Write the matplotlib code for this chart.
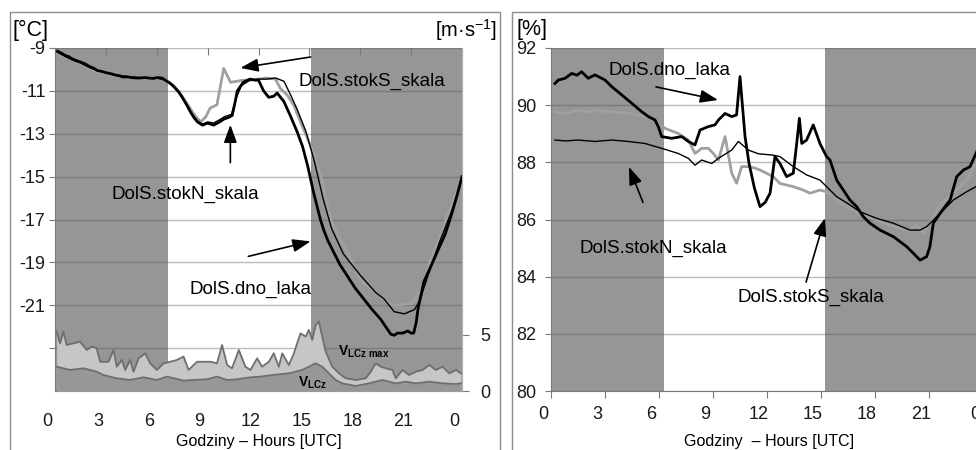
import matplotlib.pyplot as plt
import numpy as np
from matplotlib.patches import Rectangle
from matplotlib.transforms import ScaledTranslation

plt.rcParams['font.family'] = ['Liberation Sans', 'DejaVu Sans']
plt.rcParams['mathtext.fontset'] = 'custom'
plt.rcParams['mathtext.bf'] = 'Liberation Sans:bold'
plt.rcParams['mathtext.rm'] = 'Liberation Sans'

# %% Data: air temperature (left) and relative humidity (right), 24 h UTC
hour_ticks = [0, 3, 6, 9, 12, 15, 18, 21, 24]
hour_labels = ['0', '3', '6', '9', '12', '15', '18', '21', '0']

# daytime (unshaded) interval, hours
day_temp = (6.68, 15.07)
day_rh = (6.28, 15.2)

# DolS.dno_laka temperature
dno_h = [0.15, 0.4, 0.6, 0.8, 1.0, 1.3, 1.5, 1.8, 2.0, 2.3,
         2.5, 2.8, 3.0, 3.3, 3.5, 3.8, 4.0, 4.3, 4.5, 4.8,
         5.0, 5.3, 5.5, 5.8, 6.0, 6.3, 6.5, 6.8, 7.0, 7.3,
         7.5, 7.8, 8.0, 8.2, 8.4, 8.7, 9.0, 9.35, 9.7, 10.0,
         10.2, 10.45, 10.6, 10.75, 11.1, 11.5, 11.8, 12.0, 12.3, 12.6,
         12.9, 13.1, 13.3, 13.5, 13.9, 14.3, 14.6, 14.9, 15.25, 15.65,
         15.85, 16.1, 16.45, 16.8, 17.25, 17.7, 18.2, 18.7, 19.2, 19.5,
         19.8, 20.0, 20.2, 20.5, 20.8, 21.0, 21.15, 21.3, 21.4, 21.75,
         22.1, 22.6, 23.0, 23.35, 23.7, 24.0]
dno_t = [-9.15, -9.25, -9.35, -9.4, -9.5, -9.6, -9.65, -9.75, -9.85, -9.95,
         -10.05, -10.1, -10.15, -10.2, -10.25, -10.3, -10.35, -10.35, -10.38, -10.4,
         -10.4, -10.38, -10.4, -10.42, -10.38, -10.4, -10.5, -10.65, -10.8, -11.05,
         -11.3, -11.7, -12.0, -12.25, -12.45, -12.6, -12.5, -12.6, -12.45, -12.3,
         -12.25, -12.15, -11.6, -11.0, -10.6, -10.45, -10.5, -10.5, -11.0, -11.3,
         -11.25, -11.1, -11.3, -11.5, -12.2, -12.95, -13.6, -14.5, -15.75, -17.0,
         -17.5, -18.0, -18.55, -19.1, -19.65, -20.2, -20.7, -21.2, -21.65, -22.0,
         -22.35, -22.4, -22.3, -22.3, -22.2, -22.3, -22.3, -21.8, -21.2, -19.9,
         -19.3, -18.4, -17.7, -16.85, -15.9, -15.0]

# DolS.stokN_skala temperature
stokN_h = [0.15, 0.5, 1.0, 1.5, 2.0, 2.5, 3.0, 3.5, 4.0, 4.5,
           5.0, 5.5, 6.0, 6.5, 7.0, 7.5, 8.0, 8.4, 8.7, 9.0,
           9.35, 9.7, 10.0, 10.4, 10.7, 11.0, 11.5, 12.0, 12.5, 13.0,
           13.5, 13.9, 14.3, 14.8, 15.3, 15.8, 16.3, 17.0, 18.0, 18.9,
           19.4, 20.0, 20.3, 20.6, 20.9, 21.2, 21.5, 22.0, 22.7, 23.4,
           24.0]
stokN_t = [-9.2, -9.35, -9.55, -9.7, -9.9, -10.05, -10.15, -10.25, -10.3, -10.35,
           -10.38, -10.4, -10.4, -10.5, -10.8, -11.3, -12.0, -12.4, -12.55, -12.45,
           -12.5, -12.35, -12.2, -12.1, -11.3, -10.75, -10.5, -10.45, -10.45, -10.4,
           -10.55, -11.2, -11.9, -12.9, -14.3, -16.0, -17.4, -18.6, -19.6, -20.4,
           -20.7, -21.3, -21.35, -21.4, -21.3, -21.2, -20.8, -19.6, -18.0, -16.6,
           -15.1]

# DolS.stokS_skala temperature
stokS_h = [0.15, 0.5, 1.0, 1.5, 2.0, 2.5, 3.0, 3.5, 4.0, 4.5,
           5.0, 5.5, 6.0, 6.5, 7.0, 7.5, 8.0, 8.3, 8.6, 8.9,
           9.15, 9.55, 9.95, 10.35, 10.75, 11.1, 11.5, 12.0, 12.5, 13.0,
           13.3, 13.7, 14.1, 14.5, 15.1, 15.7, 16.25, 16.8, 17.25, 18.0,
           18.6, 19.2, 19.8, 20.2, 20.6, 21.1, 21.6, 22.15, 22.6, 23.0,
           23.5, 24.0]
stokS_t = [-9.25, -9.4, -9.55, -9.75, -9.95, -10.1, -10.2, -10.3, -10.35, -10.4,
           -10.42, -10.42, -10.4, -10.5, -10.75, -11.25, -11.85, -12.2, -12.45, -12.2,
           -11.8, -11.65, -9.95, -10.6, -10.55, -10.5, -10.5, -10.45, -10.4, -10.45,
           -10.9, -11.2, -11.7, -12.5, -13.6, -15.0, -17.0, -17.9, -18.55, -19.8,
           -20.2, -20.6, -20.95, -21.0, -20.95, -20.9, -20.25, -18.85, -18.0, -17.1,
           -16.1, -15.1]

# wind speed: 10-min maximum and mean (m/s)
vmax_h = [0.10, 0.30, 0.49, 0.69, 1.08, 1.48, 1.87, 2.17, 2.46, 2.66,
          3.15, 3.45, 3.64, 3.94, 4.14, 4.43, 4.63, 4.93, 5.32, 5.61,
          6.01, 6.40, 6.80, 7.19, 7.58, 7.88, 8.37, 9.16, 9.55, 9.85,
          10.15, 10.44, 10.84, 11.23, 11.53, 11.92, 12.21, 12.61, 12.90, 13.2,
          13.4, 13.79, 14.09, 14.28, 14.48, 14.78, 14.97, 15.17, 15.37, 15.56,
          15.76, 15.96, 16.35, 16.75, 17.14, 17.73, 18.32, 18.62, 18.91, 19.21,
          19.5, 19.9, 20.09, 20.49, 20.88, 21.28, 21.67, 22.07, 22.46, 22.85,
          23.25, 23.64, 23.94]
vmax = [5.3, 4.24, 5.28, 4.09, 4.24, 4.39, 3.65, 3.94, 3.8, 2.6,
        2.6, 3.65, 2.16, 2.76, 1.87, 2.76, 1.72, 2.91, 3.35, 2.46,
        1.87, 2.46, 2.6, 2.76, 3.06, 1.87, 2.6, 2.6, 2.46, 4.09,
        2.31, 2.02, 3.65, 2.16, 1.87, 2.91, 2.16, 2.6, 3.35, 2.16,
        3.35, 2.31, 3.35, 4.24, 5.13, 4.83, 5.43, 4.54, 5.87, 6.17,
        4.83, 3.5, 2.16, 1.57, 1.13, 0.98, 1.13, 1.72, 2.46, 2.16,
        2.02, 1.87, 1.13, 1.87, 1.42, 1.72, 1.87, 2.31, 1.87, 2.16,
        1.57, 1.87, 1.57]
vlcz_h = [0.10, 0.49, 0.89, 1.67, 2.46, 2.86, 3.64, 4.43, 5.22, 6.01,
          6.60, 7.58, 8.17, 8.96, 9.55, 10.15, 10.74, 11.53, 12.12, 12.80,
          13.79, 14.58, 15.37, 15.76, 16.15, 16.55, 16.94, 17.73, 18.52, 19.31,
          20.09, 20.68, 21.28, 22.07, 22.85, 23.64, 23.94]
vlcz = [2.16, 2.02, 1.87, 2.02, 1.72, 1.42, 1.13, 0.98, 1.22, 0.98,
        1.28, 0.92, 0.98, 1.04, 1.28, 0.98, 1.04, 1.22, 1.28, 1.42,
        1.57, 1.87, 2.46, 2.16, 1.57, 0.98, 0.68, 0.45, 0.68, 0.98,
        0.68, 0.83, 0.68, 0.83, 0.68, 0.62, 0.68]

# relative humidity (%)
rh_dno_h = [0.22, 0.41, 0.78, 1.15, 1.45, 1.70, 2.07, 2.44, 3.0, 3.37,
            3.93, 4.48, 5.04, 5.41, 5.78, 5.96, 6.15, 6.7, 7.26, 7.63,
            8.0, 8.28, 8.74, 9.11, 9.3, 9.67, 10.04, 10.31, 10.5, 10.78,
            11.0, 11.3, 11.61, 11.9, 12.17, 12.44, 12.72, 13.09, 13.46, 13.65,
            13.8, 13.93, 14.2, 14.57, 14.94, 15.31, 15.5, 15.87, 16.24, 16.61,
            16.98, 17.35, 17.72, 18.28, 19.02, 19.76, 20.13, 20.5, 20.87, 21.05,
            21.24, 21.61, 22.17, 22.54, 22.91, 23.28, 23.61, 24.0]
rh_dno = [90.76, 90.88, 90.94, 91.11, 91.05, 91.17, 90.94, 91.06, 90.88, 90.65,
          90.36, 90.07, 89.77, 89.6, 89.48, 89.25, 88.9, 88.84, 88.9, 88.73,
          88.61, 89.13, 89.25, 89.31, 89.48, 89.71, 89.6, 89.66, 91.0, 88.9,
          87.97, 87.1, 86.45, 86.6, 86.92, 88.2, 87.96, 87.5, 87.62, 88.66,
          89.54, 88.66, 88.78, 89.31, 88.66, 88.2, 88.08, 87.38, 87.03, 86.68,
          86.45, 86.1, 85.87, 85.63, 85.4, 85.05, 84.82, 84.58, 84.7, 85.05,
          85.87, 86.21, 86.68, 87.5, 87.73, 87.85, 88.31, 88.9]
rh_stokS_h = [0.22, 0.8, 1.52, 2.0, 2.44, 3.0, 3.37, 4.3, 5.22, 5.78,
              6.33, 7.07, 7.63, 8.0, 8.37, 8.74, 9.02, 9.3, 9.67, 10.04,
              10.31, 10.59, 10.96, 11.33, 11.61, 12.35, 12.72, 13.46, 14.02, 14.39,
              14.94, 15.31, 15.87, 16.43, 17.17, 18.09, 19.02, 19.94, 20.31, 20.68,
              21.05, 21.61, 22.35, 23.09, 23.61, 24.0]
rh_stokS = [89.77, 89.7, 89.83, 89.75, 89.83, 89.78, 89.77, 89.71, 89.6, 89.48,
            89.19, 89.01, 88.78, 88.31, 88.49, 88.49, 88.31, 88.08, 88.9, 87.62,
            87.27, 87.85, 87.85, 87.8, 87.73, 87.5, 87.26, 87.15, 87.03, 86.92,
            87.03, 86.97, 86.68, 86.45, 86.21, 85.98, 85.75, 85.63, 85.8, 85.52,
            85.87, 86.51, 86.92, 87.38, 87.96, 88.3]
rh_stokN_h = [0.22, 0.8, 1.52, 2.44, 3.37, 4.3, 5.22, 6.15, 7.07, 7.63,
              8.0, 8.37, 8.93, 9.3, 10.04, 10.41, 10.96, 11.52, 12.35, 12.72,
              13.46, 14.2, 14.94, 15.31, 15.87, 16.61, 17.17, 18.09, 19.02, 19.94,
              20.5, 20.87, 21.24, 21.61, 22.35, 23.09, 23.61, 24.0]
rh_stokN = [88.78, 88.75, 88.78, 88.73, 88.78, 88.73, 88.66, 88.49, 88.31, 88.14,
            87.9, 88.08, 87.96, 88.14, 88.43, 88.73, 88.43, 88.3, 88.25, 88.2,
            87.85, 87.56, 87.38, 87.15, 86.8, 86.51, 86.27, 86.04, 85.87, 85.63,
            85.63, 85.75, 85.98, 86.21, 86.68, 86.97, 87.15, 87.3]

# %% Styles
night = '#969696'
grid_kw = dict(color='#4f4f4f', alpha=0.38, lw=1.0)
thick_black = dict(color='black', lw=2.0, zorder=4)
thin_black = dict(color='black', lw=1.0, zorder=3.5)
thick_gray = dict(color='#a0a0a0', lw=2.0, zorder=3)
arrow_kw = dict(arrowstyle='-|>,head_length=0.6,head_width=0.22',
                color='black', lw=1.2, mutation_scale=18, shrinkA=0, shrinkB=0)
W, H = 976, 450

fig = plt.figure(figsize=(W / 100, H / 100), dpi=100)

# panel frames
for x0, x1 in [(10, 500), (512, 990)]:
    fig.patches.append(Rectangle((x0 / W, -0.1), (x1 - x0) / W, 1.1 - 12 / H,
                                 transform=fig.transFigure, fill=False,
                                 edgecolor='#8c8c8c', lw=1.0))


def shift_labels(ax, dx_px):
    # move x tick labels a few pixels to the left
    off = ScaledTranslation(dx_px / 100, 0, fig.dpi_scale_trans)
    for lab in ax.get_xticklabels():
        lab.set_transform(lab.get_transform() + off)


def style_axes(ax):
    ax.set_xlim(0, 24)
    ax.set_xticks(hour_ticks)
    ax.set_xticklabels(hour_labels)
    ax.set_axisbelow('line')
    ax.spines['top'].set_visible(False)
    for s in ['left', 'bottom', 'right']:
        ax.spines[s].set_color('#7a7a7a')
    ax.tick_params(labelsize=13, colors='#7a7a7a', labelcolor='#1a1a1a')


# %% Left panel: temperature and wind speed
ax = fig.add_axes([55 / W, 59 / H, 407 / W, 343 / H])
style_axes(ax)
ax.set_ylim(-25, -9)
ax.set_yticks(np.arange(-23, -8, 2))
ax.set_yticklabels([''] + [str(v) for v in range(-21, -8, 2)])
ax.grid(axis='y', **grid_kw)
ax.axvspan(0, day_temp[0], color=night, lw=0, zorder=0.2)
ax.axvspan(day_temp[1], 24, color=night, lw=0, zorder=0.2)
ax.tick_params(axis='x', bottom=False, top=True, direction='in', length=5, pad=16)
ax.tick_params(axis='y', length=4, pad=3)
ax.spines['right'].set_color('#b0b0b0')

ax.plot(stokS_h, stokS_t, **thick_gray)
ax.plot(stokN_h, stokN_t, **thin_black)
ax.plot(dno_h, dno_t, **thick_black)
ax.set_xlabel('Godziny – Hours [UTC]', fontsize=11.5, labelpad=0)
ax.xaxis.set_label_coords(0.5, -0.125)
shift_labels(ax, -8)

ax.text(18.7, -10.58, 'DolS.stokS_skala', fontsize=13.5, ha='center', va='center', zorder=6)
ax.annotate('', xy=(10.93, -9.93), xytext=(15.07, -9.42), arrowprops=arrow_kw, zorder=6)
ax.text(7.68, -15.84, 'DolS.stokN_skala', fontsize=13.5, ha='center', va='center', zorder=6)
ax.annotate('', xy=(10.34, -12.58), xytext=(10.34, -14.35), arrowprops=arrow_kw, zorder=6)
ax.text(11.52, -20.26, 'DolS.dno_laka', fontsize=13.5, ha='center', va='center', zorder=6)
ax.annotate('', xy=(15.07, -18.02), xytext=(11.4, -18.72), arrowprops=arrow_kw, zorder=6)

# wind on a secondary axis
axw = ax.twinx()
axw.set_ylim(0, 30.5)
axw.set_yticks([0, 5])
axw.set_xlim(0, 24)
for s in ['top', 'left', 'bottom']:
    axw.spines[s].set_visible(False)
axw.spines['right'].set_color('#b0b0b0')
axw.tick_params(axis='y', labelsize=13, colors='#7a7a7a', labelcolor='#1a1a1a',
                length=5, pad=8)
axw.fill_between(vmax_h, 0, vmax, color='#c6c6c6', lw=0)
axw.plot(vmax_h, vmax, color='#6e6e6e', lw=1.3)
axw.fill_between(vlcz_h, 0, vlcz, color='#979797', lw=0)
axw.plot(vlcz_h, vlcz, color='#6e6e6e', lw=1.3)
axw.text(16.67, 3.47, r'$\mathbf{V}_{\mathbf{LCz\ max}}$', fontsize=10, va='center')
axw.text(14.3, 0.7, r'$\mathbf{V}_{\mathbf{LCz}}$', fontsize=10, va='center')

fig.text(13 / W, 1 - 30 / H, '[°C]', fontsize=15.5, va='center', ha='left')
fig.text(497 / W, 1 - 30 / H, r'[m·s$^{-1}$]', fontsize=14.5, va='center', ha='right')

# %% Right panel: relative humidity
axr = fig.add_axes([551 / W, 59 / H, 432 / W, 343 / H])
style_axes(axr)
axr.set_ylim(80, 92)
axr.set_yticks(np.arange(80, 93, 2))
axr.grid(axis='y', **grid_kw)
axr.axvspan(0, day_rh[0], color=night, lw=0, zorder=0.2)
axr.axvspan(day_rh[1], 24, color=night, lw=0, zorder=0.2)
axr.tick_params(axis='x', direction='out', length=5, pad=6)
axr.tick_params(axis='y', direction='out', length=4.5, pad=6)
axr.spines['right'].set_visible(False)

axr.plot(rh_stokS_h, rh_stokS, **thick_gray)
axr.plot(rh_stokN_h, rh_stokN, **thin_black)
axr.plot(rh_dno_h, rh_dno, **thick_black)
axr.set_xlabel('Godziny  – Hours [UTC]', fontsize=11.5)
axr.xaxis.set_label_coords(218 / 432, -0.125)
shift_labels(axr, -8)

axr.text(6.61, 91.23, 'DolS.dno_laka', fontsize=13.5, ha='center', va='center', zorder=6)
axr.annotate('', xy=(9.28, 90.18), xytext=(5.83, 90.64), arrowprops=arrow_kw, zorder=6)
axr.text(5.67, 85.0, 'DolS.stokN_skala', fontsize=13.5, ha='center', va='center', zorder=6)
axr.annotate('', xy=(4.33, 87.84), xytext=(5.11, 86.6), arrowprops=arrow_kw, zorder=6)
axr.text(14.44, 83.29, 'DolS.stokS_skala', fontsize=13.5, ha='center', va='center', zorder=6)
axr.annotate('', xy=(15.22, 86.05), xytext=(14.17, 83.81), arrowprops=arrow_kw, zorder=6)

fig.text(516 / W, 1 - 30 / H, '[%]', fontsize=15.5, va='center', ha='left')

fig.savefig('out.png', dpi=100)
